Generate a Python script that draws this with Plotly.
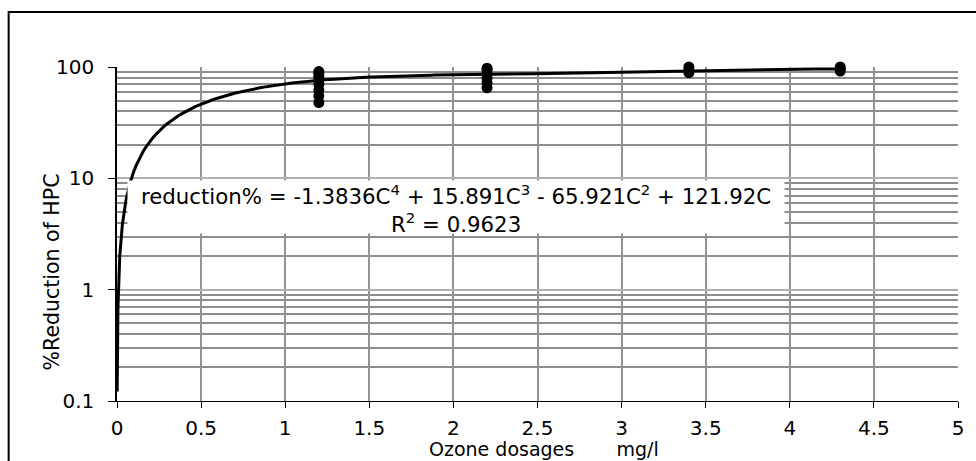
import numpy as np
import plotly.graph_objects as go

# ---- data ----
dose_1_2 = [1.2] * 8
red_1_2 = [48, 55, 62, 70, 76, 82, 87, 91]
dose_2_2 = [2.2] * 6
red_2_2 = [65, 72, 80, 88, 94, 97.5]
dose_3_4 = [3.4] * 3
red_3_4 = [89, 94, 100]
dose_4_3 = [4.3] * 3
red_4_3 = [92, 96, 100]

# trendline coefficients printed on the chart (C^4, C^3, C^2, C^1)
trend_coeffs = [-1.3836, 15.891, -65.921, 121.92]
trend_start, trend_end = 0.001, 4.3

x_ticks = [0, 0.5, 1, 1.5, 2, 2.5, 3, 3.5, 4, 4.5, 5]
x_tick_text = ["0", "0.5", "1", "1.5", "2", "2.5", "3", "3.5", "4", "4.5", "5"]
y_ticks = [0.1, 1, 10, 100]
y_tick_text = ["0.1", "1", "10", "100"]
y_minor = [k * 10.0 ** e for e in (-1, 0, 1) for k in range(2, 10)]

equation_line1 = "reduction% = -1.3836C<sup>4</sup> + 15.891C<sup>3</sup> - 65.921C<sup>2</sup> + 121.92C"
equation_line2 = "R<sup>2</sup> = 0.9623"
x_title = "Ozone dosages" + "\u00a0" * 7 + "mg/l"
y_title = "%Reduction of HPC"

# ---- build ----
xs = np.concatenate([np.geomspace(trend_start, 0.1, 120), np.linspace(0.1, trend_end, 300)[1:]])
ys = np.polyval(trend_coeffs + [0.0], xs)

FONT = "DejaVu Sans, Liberation Sans, Arial, sans-serif"
W, H = 976, 461
L, R, T, B = 117, 963, 67, 401

def px(xp):
    return (xp - L) / (R - L)

def py(yp):
    return (B - yp) / (B - T)

fig = go.Figure()
fig.add_trace(go.Scatter(x=xs, y=ys, mode="lines", line=dict(color="black", width=3),
                         hoverinfo="skip", showlegend=False))
all_x = dose_1_2 + dose_2_2 + dose_3_4 + dose_4_3
all_y = red_1_2 + red_2_2 + red_3_4 + red_4_3
fig.add_trace(go.Scatter(x=all_x, y=all_y, mode="markers",
                         marker=dict(color="black", size=11, line=dict(width=0)),
                         cliponaxis=False, showlegend=False))

fig.update_layout(
    width=W, height=H,
    margin=dict(l=L, r=W - R, t=T, b=H - B),
    paper_bgcolor="white", plot_bgcolor="white",
    font=dict(family=FONT, size=20, color="black"),
    showlegend=False,
    xaxis=dict(range=[0, 5], tickmode="array", tickvals=x_ticks, ticktext=x_tick_text,
               showgrid=True, gridcolor="#939393", gridwidth=1.5,
               showline=True, linecolor="black", linewidth=1,
               ticks="outside", ticklen=6, tickcolor="black",
               ticklabelstandoff=3,
               tickfont=dict(size=20), zeroline=False),
    yaxis=dict(type="log", range=[-1, 2], tickmode="array", tickvals=y_ticks, ticktext=y_tick_text,
               showgrid=True, gridcolor="#b0b0b0", gridwidth=1.5,
               minor=dict(tickmode="array", tickvals=y_minor, showgrid=True,
                          gridcolor="#8d8d8d", gridwidth=1.5, ticks=""),
               showline=True, linecolor="black", linewidth=1.5,
               ticks="outside", ticklen=7, tickcolor="black",
               ticklabelstandoff=10,
               tickfont=dict(size=20), zeroline=False),
)

# equation box (white background) with first line, then second line on top
fig.add_annotation(xref="paper", yref="paper", x=px(458), y=py(180),
                   text=equation_line1, showarrow=False, align="center",
                   font=dict(size=21.3, family=FONT), bgcolor="white",
                   width=656, height=52, valign="top", borderpad=0,
                   xanchor="center", yanchor="top")
fig.add_annotation(xref="paper", yref="paper", x=px(458), y=py(222.5),
                   text=equation_line2, showarrow=False,
                   font=dict(size=21.3, family=FONT),
                   xanchor="center", yanchor="middle")
fig.add_annotation(xref="paper", yref="paper", x=px(547), y=py(449),
                   text=x_title, showarrow=False, font=dict(size=19, family=FONT),
                   xanchor="center", yanchor="middle")
fig.add_annotation(xref="paper", yref="paper", x=px(52), y=py(272),
                   text=y_title, showarrow=False, textangle=-90,
                   font=dict(size=20.5, family=FONT), xanchor="center", yanchor="middle")

fig.add_shape(type="rect", xref="paper", yref="paper",
              x0=px(8), x1=px(995), y0=py(480), y1=py(12),
              line=dict(color="black", width=2), fillcolor="rgba(0,0,0,0)", layer="below")

fig.write_html("out.html", config={"displayModeBar": False})

# remove the default page margin so the figure sits at the window's top-left corner
with open("out.html", "r", encoding="utf-8") as f:
    html = f.read()
html = html.replace("<head>", "<head><style>html,body{margin:0;padding:0;overflow:hidden;}</style>", 1)
with open("out.html", "w", encoding="utf-8") as f:
    f.write(html)
